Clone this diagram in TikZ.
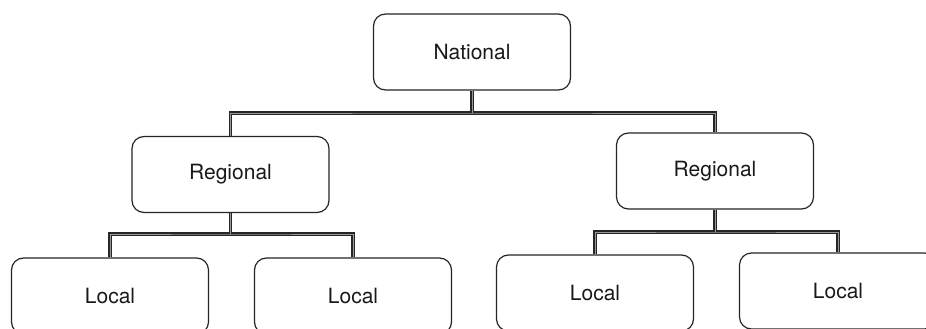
\documentclass[tikz,border=0pt]{standalone}
\usepackage{fontspec}
\setmainfont{TeX Gyre Heros}
\begin{document}
\begin{tikzpicture}[x=1pt,y=-1pt,
  unitbox/.style={draw=black!85, line width=1.2pt, rounded corners=12pt, fill=white,
    minimum width=197pt, minimum height=76pt, inner sep=0pt,
    font=\fontsize{21}{25}\selectfont, text=black!90},
  conn/.style={draw=black!85, line width=1.3pt, double=black!40, double distance=0.9pt}]
\useasboundingbox (0,0) rectangle (926,329);
\clip (0,0) rectangle (926,329);
\fill[white] (0,0) rectangle (926,329);
\node[unitbox] (N) at (472,52) {National};
\node[unitbox] (R1) at (230.5,174.5) {Regional};
\node[unitbox] (R2) at (715,171) {Regional};
\node[unitbox] (L1) at (110,296) {Local};
\node[unitbox] (L2) at (353,296) {Local};
\node[unitbox] (L3) at (595,293) {Local};
\node[unitbox] (L4) at (838,291) {Local};
\coordinate (j0) at (472,113);
\coordinate (j1) at (230.5,234);
\coordinate (j2) at (715,232);
\draw[conn] (R1.north) |- (j0) -| (R2.north);
\draw[conn] (N.south) -- (j0);
\draw[conn] (L1.north) |- (j1) -| (L2.north);
\draw[conn] (R1.south) -- (j1);
\draw[conn] (L3.north) |- (j2) -| (L4.north);
\draw[conn] (R2.south) -- (j2);
\end{tikzpicture}
\end{document}
